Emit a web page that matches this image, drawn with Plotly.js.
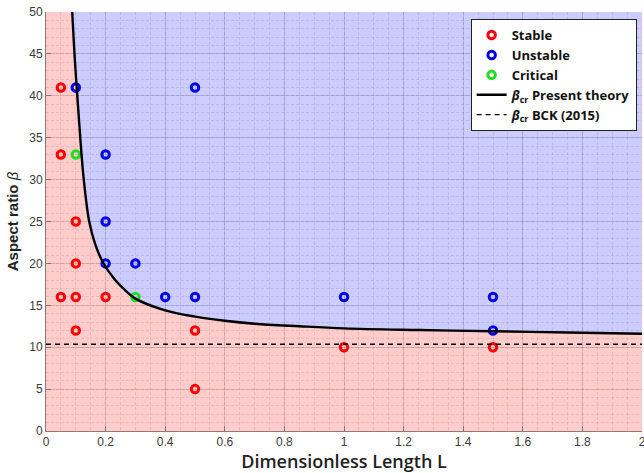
<!DOCTYPE html>
<html>
<head>
<meta charset="utf-8">
<script src="https://cdn.plot.ly/plotly-3.0.1.min.js"></script>
<style>html,body{margin:0;padding:0;background:#fff}#chart{width:644px;height:473px}</style>
</head>
<body>
<div id="chart"></div>
<script>
// Experimental points
const stableL = [0.05, 0.05, 0.05, 0.1, 0.1, 0.1, 0.1, 0.2, 0.5, 0.5, 1.0, 1.5];
const stableB = [41, 33, 16, 25, 20, 16, 12, 16, 12, 5, 10, 10];
const unstableL = [0.1, 0.2, 0.2, 0.2, 0.3, 0.4, 0.5, 0.5, 1.0, 1.5, 1.5];
const unstableB = [41, 33, 25, 20, 20, 16, 16, 41, 16, 16, 12];
const criticalL = [0.1, 0.3];
const criticalB = [33, 16];

// Present theory critical curve
const curveL = [0.088, 0.094, 0.101, 0.108, 0.116, 0.124, 0.133, 0.145, 0.165, 0.19, 0.23, 0.265, 0.3, 0.4, 0.5, 0.6, 0.7, 0.85, 1.0, 1.25, 1.5, 1.75, 2.0];
const curveB = [50, 46, 42, 38.5, 34.5, 31, 28, 25, 22.3, 20.2, 18.1, 16.8, 15.8, 14.4, 13.65, 13.15, 12.8, 12.5, 12.25, 12.05, 11.9, 11.75, 11.6];

// BCK (2015) constant value
const bckValue = 10.35;

const xRange = [0, 2];
const yRange = [0, 50];

const xTicks = [0, 0.2, 0.4, 0.6, 0.8, 1, 1.2, 1.4, 1.6, 1.8, 2];
const xTickText = ['0', '0.2', '0.4', '0.6', '0.8', '1', '1.2', '1.4', '1.6', '1.8', '2'];
const yTicks = [0, 5, 10, 15, 20, 25, 30, 35, 40, 45, 50];

// Region polygons built from the curve and the axis ranges
const stableRegX = [xRange[0], xRange[0]].concat(curveL, [xRange[1]]);
const stableRegY = [yRange[0], yRange[1]].concat(curveB, [yRange[0]]);
const unstableRegX = curveL.concat([xRange[1]]);
const unstableRegY = curveB.concat([yRange[1]]);

const markerBase = {symbol: 'circle-open', size: 7.5};

const traces = [
  {x: stableRegX, y: stableRegY, type: 'scatter', mode: 'none', fill: 'toself',
   fillcolor: 'rgba(255,0,0,0.2)', showlegend: false, hoverinfo: 'skip'},
  {x: unstableRegX, y: unstableRegY, type: 'scatter', mode: 'none', fill: 'toself',
   fillcolor: 'rgba(0,0,255,0.2)', showlegend: false, hoverinfo: 'skip'},
  {x: stableL, y: stableB, type: 'scatter', mode: 'markers', name: 'Stable',
   marker: Object.assign({}, markerBase, {color: '#ff0000', line: {color: '#ff0000', width: 3}})},
  {x: unstableL, y: unstableB, type: 'scatter', mode: 'markers', name: 'Unstable',
   marker: Object.assign({}, markerBase, {color: '#0000e6', line: {color: '#0000e6', width: 3}})},
  {x: criticalL, y: criticalB, type: 'scatter', mode: 'markers', name: 'Critical',
   marker: Object.assign({}, markerBase, {color: '#22dd22', line: {color: '#22dd22', width: 3}})},
  {x: curveL, y: curveB, type: 'scatter', mode: 'lines', name: '<i>β</i><sub>cr</sub> Present theory',
   line: {color: '#000', width: 2.4, shape: 'spline'}},
  {x: xRange, y: [bckValue, bckValue], type: 'scatter', mode: 'lines', name: '<i>β</i><sub>cr</sub> BCK (2015)',
   line: {color: '#000', width: 1.3, dash: '5px,4px'}}
];

const tickFont = {family: 'Liberation Sans, Arial, sans-serif', size: 12, color: '#3a3a3a'};

const layout = {
  width: 644, height: 473,
  margin: {l: 46, r: 2, t: 12, b: 42},
  paper_bgcolor: '#fff', plot_bgcolor: '#fff',
  showlegend: true,
  legend: {
    x: 0.991, y: 0.983, xanchor: 'right', yanchor: 'top',
    bgcolor: '#fff', bordercolor: '#222', borderwidth: 1,
    font: {family: 'Open Sans, sans-serif', size: 13, color: '#111', weight: 700},
    tracegroupgap: 0, itemwidth: 30
  },
  xaxis: {
    range: xRange, tickvals: xTicks, ticktext: xTickText,
    ticks: 'inside', ticklen: 5, tickcolor: '#777', tickwidth: 1,
    ticklabeloverflow: 'allow',
    showline: true, linecolor: '#8a7a7a', linewidth: 1,
    showgrid: true, gridcolor: 'rgba(0,0,0,0.13)', gridwidth: 1,
    minor: {dtick: 0.05, showgrid: true, gridcolor: 'rgba(0,0,0,0.09)', griddash: '3px,2px', gridwidth: 1},
    zeroline: false, tickfont: tickFont,
    title: {text: 'Dimensionless Length L', standoff: 4,
            font: {family: 'Open Sans, sans-serif', size: 18, color: '#222', weight: 600}}
  },
  yaxis: {
    range: yRange, tickvals: yTicks,
    ticks: 'inside', ticklen: 5, tickcolor: '#777', tickwidth: 1,
    ticklabeloverflow: 'allow',
    showline: true, linecolor: '#8a7a7a', linewidth: 1,
    showgrid: true, gridcolor: 'rgba(0,0,0,0.13)', gridwidth: 1,
    minor: {dtick: 1, showgrid: true, gridcolor: 'rgba(0,0,0,0.09)', griddash: '3px,2px', gridwidth: 1},
    zeroline: false, tickfont: tickFont,
    title: {text: '<b>Aspect ratio</b> <i>β</i>', standoff: 6,
            font: {family: 'Liberation Sans, Arial, sans-serif', size: 15, color: '#222'}}
  }
};

Plotly.newPlot('chart', traces, layout, {displayModeBar: false, staticPlot: true});
</script>
</body>
</html>
